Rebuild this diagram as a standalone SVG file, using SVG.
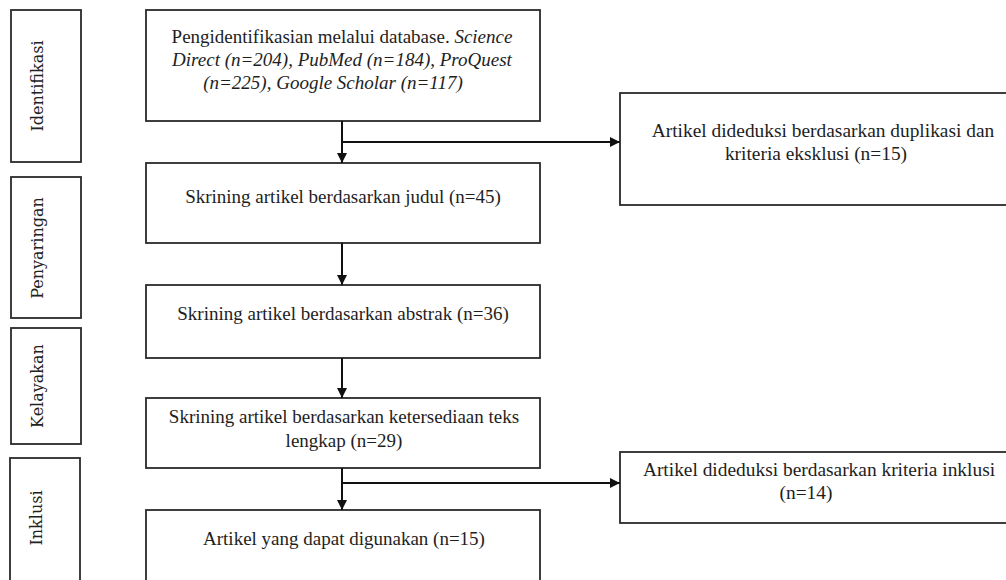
<svg xmlns="http://www.w3.org/2000/svg" width="1006" height="580" viewBox="0 0 1006 580">
<style>
.box{fill:#fff;stroke:#2a2a2a;stroke-width:1.8}
.t{font-family:"Liberation Serif","Times New Roman",serif;font-size:19px;fill:#1e1e1e;text-anchor:middle}
.tr{font-size:19.4px}
.side{font-family:"DejaVu Serif",serif;font-size:16px;fill:#222;text-anchor:middle}
.ln{fill:none;stroke:#111;stroke-width:2}
</style>
<defs>
<marker id="ah" viewBox="0 0 10 10" refX="10" refY="5" markerWidth="10" markerHeight="10" markerUnits="userSpaceOnUse" orient="auto">
<path d="M0,0 L10,5 L0,10 z" fill="#111"/>
</marker>
</defs>
<g id="side-identifikasi"><rect class="box" x="11" y="10" width="70" height="152"/><text class="side" transform="translate(43,86) rotate(-90)">Identifikasi</text></g>
<g id="side-penyaringan"><rect class="box" x="11" y="177" width="70" height="141"/><text class="side" transform="translate(43,248) rotate(-90)">Penyaringan</text></g>
<g id="side-kelayakan"><rect class="box" x="11" y="328" width="70" height="116"/><text class="side" transform="translate(43,386) rotate(-90)">Kelayakan</text></g>
<g id="side-inklusi"><rect class="box" x="10" y="458" width="70" height="140"/><text class="side" transform="translate(42,518) rotate(-90)">Inklusi</text></g>

<g id="n1"><rect class="box" x="146" y="10" width="394" height="111"/>
<text class="t" x="342" y="43">Pengidentifikasian melalui database. <tspan font-style="italic">Science</tspan></text>
<text class="t" x="342" y="66" font-style="italic">Direct (n=204), PubMed (n=184), ProQuest</text>
<text class="t" x="333" y="89" font-style="italic">(n=225), Google Scholar (n=117)</text></g>
<g id="n2"><rect class="box" x="146" y="163" width="394" height="80"/><text class="t" x="343" y="203">Skrining artikel berdasarkan judul (n=45)</text></g>
<g id="n3"><rect class="box" x="146" y="285" width="394" height="73"/><text class="t" x="343" y="320">Skrining artikel berdasarkan abstrak (n=36)</text></g>
<g id="n4"><rect class="box" x="146" y="398" width="394" height="70"/><text class="t" x="344" y="423">Skrining artikel berdasarkan ketersediaan teks</text><text class="t" x="344" y="447">lengkap (n=29)</text></g>
<g id="n5"><rect class="box" x="146" y="510" width="394" height="90"/><text class="t" x="344" y="545">Artikel yang dapat digunakan (n=15)</text></g>
<g id="r1"><rect class="box" x="620" y="93" width="400" height="112"/><text class="t tr" x="823" y="137">Artikel dideduksi berdasarkan duplikasi dan</text><text class="t tr" x="816" y="160">kriteria eksklusi (n=15)</text></g>
<g id="r2"><rect class="box" x="620" y="452" width="400" height="71"/><text class="t tr" x="819" y="476">Artikel dideduksi berdasarkan kriteria inklusi</text><text class="t tr" x="806" y="499">(n=14)</text></g>

<g id="connectors">
<path class="ln" d="M342,121 V163" marker-end="url(#ah)"/>
<path class="ln" d="M342,142 H620" marker-end="url(#ah)"/>
<path class="ln" d="M342,243 V285" marker-end="url(#ah)"/>
<path class="ln" d="M342,358 V398" marker-end="url(#ah)"/>
<path class="ln" d="M342,468 V510" marker-end="url(#ah)"/>
<path class="ln" d="M342,483 H620" marker-end="url(#ah)"/>
</g>
</svg>
